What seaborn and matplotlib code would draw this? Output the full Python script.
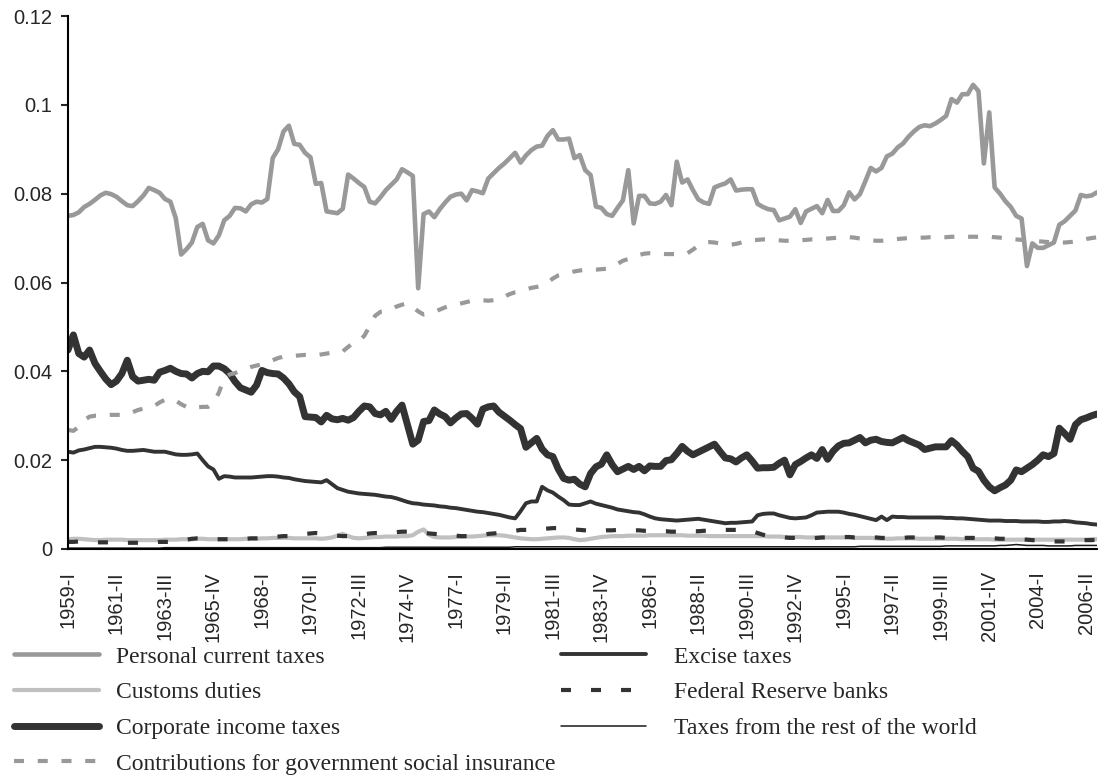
import numpy as np
import pandas as pd
import matplotlib
matplotlib.use("Agg")
import matplotlib.pyplot as plt
from matplotlib.ticker import FuncFormatter
import seaborn as sns

# quarterly values, in thousandths (0.001)
personal = [
    75.0, 75.2, 75.8, 77.0, 77.7, 78.6, 79.6, 80.2, 79.9, 79.3,
    78.3, 77.4, 77.2, 78.3, 79.6, 81.3, 80.8, 80.2, 78.8, 78.2,
    74.5, 66.3, 67.5, 69.0, 72.5, 73.2, 69.5, 68.8, 70.6, 74.0,
    75.0, 76.8, 76.7, 76.0, 77.6, 78.2, 78.0, 78.8, 88.0, 90.0,
    94.0, 95.3, 91.2, 91.0, 89.2, 88.2, 82.2, 82.4, 76.0, 75.8,
    75.6, 76.6, 84.3, 83.4, 82.4, 81.5, 78.2, 77.8, 79.2, 80.8,
    82.0, 83.2, 85.5, 84.8, 84.0, 58.7, 75.4, 76.0, 74.7, 76.5,
    78.0, 79.3, 79.8, 80.0, 78.5, 80.8, 80.5, 80.1, 83.4, 84.6,
    85.8, 86.8, 88.0, 89.2, 87.0, 88.6, 89.8, 90.6, 90.8, 93.0,
    94.3, 92.2, 92.2, 92.4, 88.0, 88.7, 85.3, 84.2, 77.1, 76.8,
    75.4, 75.0, 76.8, 78.5, 85.3, 73.3, 79.5, 79.5, 77.8, 77.7,
    78.2, 79.7, 77.4, 87.2, 82.5, 83.2, 80.8, 78.7, 78.0, 77.7,
    81.4, 81.9, 82.3, 83.2, 80.7, 80.9, 81.0, 81.0, 77.7, 77.0,
    76.5, 76.3, 74.0, 74.4, 74.8, 76.5, 73.4, 76.0, 76.6, 77.2,
    75.6, 78.6, 76.1, 76.1, 77.4, 80.3, 78.7, 79.9, 82.8, 85.8,
    85.0, 85.8, 88.4, 89.0, 90.4, 91.3, 92.8, 94.0, 95.0, 95.4,
    95.2, 95.8, 96.6, 97.5, 101.3, 100.5, 102.4, 102.4, 104.5, 103.1,
    86.8, 98.3, 81.4, 80.0, 78.3, 77.0, 75.0, 74.4, 63.7, 68.8,
    67.8, 67.8, 68.4, 69.0, 73.0, 73.8, 75.0, 76.2, 79.7, 79.4, 79.6, 80.3,
]
customs = [
    2.2, 2.3, 2.3, 2.2, 2.1, 2.0, 2.0, 2.1, 2.1, 2.1,
    2.1, 2.0, 2.0, 2.0, 2.0, 2.0, 2.0, 2.0, 2.1, 2.1,
    2.1, 2.2, 2.2, 2.2, 2.3, 2.3, 2.2, 2.2, 2.2, 2.2,
    2.2, 2.2, 2.2, 2.3, 2.3, 2.3, 2.4, 2.4, 2.5, 2.5,
    2.5, 2.5, 2.4, 2.4, 2.4, 2.4, 2.4, 2.3, 2.4, 2.6,
    3.0, 3.4, 2.9, 2.5, 2.4, 2.5, 2.6, 2.7, 2.7, 2.8,
    2.8, 2.8, 2.9, 2.9, 3.1, 3.9, 4.4, 3.2, 2.7, 2.6,
    2.6, 2.6, 2.7, 2.7, 2.8, 2.8, 2.9, 3.0, 3.1, 3.1,
    3.1, 3.0, 2.8, 2.6, 2.4, 2.3, 2.2, 2.2, 2.3, 2.4,
    2.5, 2.6, 2.6, 2.5, 2.2, 2.0, 2.1, 2.3, 2.5, 2.7,
    2.8, 2.9, 2.9, 2.9, 3.0, 3.0, 3.0, 3.0, 3.1, 3.1,
    3.1, 3.1, 3.1, 3.1, 3.1, 3.0, 3.0, 3.0, 3.0, 2.9,
    2.9, 2.9, 2.9, 2.9, 2.9, 2.9, 2.9, 2.9, 2.9, 2.9,
    2.8, 2.8, 2.8, 2.7, 2.7, 2.7, 2.7, 2.6, 2.6, 2.6,
    2.6, 2.6, 2.6, 2.6, 2.6, 2.6, 2.5, 2.5, 2.5, 2.5,
    2.4, 2.3, 2.3, 2.3, 2.4, 2.4, 2.4, 2.4, 2.3, 2.3,
    2.3, 2.3, 2.3, 2.3, 2.3, 2.3, 2.2, 2.2, 2.2, 2.2,
    2.2, 2.2, 2.1, 2.1, 2.1, 2.1, 2.1, 2.1, 2.1, 2.1,
    2.1, 2.1, 2.1, 2.1, 2.1, 2.1, 2.1, 2.1, 2.1, 2.1, 2.2, 2.2,
]
corporate = [
    44.8, 48.2, 44.0, 43.2, 44.8, 41.8, 40.0, 38.3, 37.0, 37.8,
    39.5, 42.5, 38.8, 37.8, 38.0, 38.2, 38.0, 39.8, 40.2, 40.7,
    40.0, 39.5, 39.4, 38.5, 39.5, 40.0, 39.9, 41.2, 41.2, 40.6,
    39.5, 37.7, 36.3, 35.8, 35.3, 36.9, 40.2, 39.7, 39.5, 39.4,
    38.5, 37.2, 35.4, 34.3, 29.8, 29.7, 29.6, 28.6, 30.1, 29.3,
    29.1, 29.4, 29.0, 29.6, 31.0, 32.2, 32.0, 30.5, 30.2, 31.0,
    29.2, 31.0, 32.4, 28.0, 23.6, 24.5, 28.7, 28.9, 31.3, 30.4,
    29.8, 28.4, 29.5, 30.4, 30.5, 29.4, 28.1, 31.5, 32.0, 32.2,
    30.8, 29.9, 29.0, 28.0, 27.1, 22.9, 23.9, 24.9, 22.5, 21.2,
    20.8, 18.0, 15.9, 15.5, 15.7, 14.6, 14.0, 17.0, 18.5, 19.1,
    21.2, 19.0, 17.4, 18.0, 18.6, 17.9, 18.6, 17.6, 18.7, 18.6,
    18.6, 19.9, 20.1, 21.5, 23.1, 22.0, 21.2, 21.8, 22.4, 23.0,
    23.6, 22.0, 20.5, 20.3, 19.6, 20.5, 21.2, 19.8, 18.2, 18.3,
    18.3, 18.4, 19.3, 20.0, 16.7, 19.0, 19.7, 20.5, 21.2, 20.4,
    22.4, 20.2, 22.0, 23.2, 23.8, 23.9, 24.5, 25.1, 23.9, 24.5,
    24.7, 24.2, 24.0, 23.9, 24.5, 25.1, 24.4, 23.9, 23.4, 22.4,
    22.7, 23.0, 23.0, 23.0, 24.4, 23.4, 22.0, 20.8, 18.2, 17.5,
    15.5, 14.0, 13.1, 13.8, 14.4, 15.5, 17.8, 17.4, 18.2, 19.0,
    20.0, 21.2, 20.8, 21.5, 27.2, 26.0, 24.7, 28.0, 29.1, 29.5, 30.0, 30.4,
]
contributions = [
    26.8, 26.6, 27.5, 29.0, 29.8, 30.0, 30.0, 30.1, 30.2, 30.2,
    30.2, 30.3, 30.8, 31.3, 31.6, 31.8, 32.2, 33.0, 33.6, 33.8,
    33.4, 32.6, 32.0, 31.6, 31.9, 32.0, 32.0, 32.8, 35.2, 38.5,
    39.3, 39.6, 40.2, 40.6, 41.0, 41.3, 41.6, 42.0, 42.5, 43.0,
    43.3, 43.4, 43.5, 43.6, 43.7, 43.7, 43.6, 43.8, 44.0, 44.2,
    44.2, 44.5, 45.5, 46.4, 46.8, 48.0, 50.2, 52.5, 53.4, 53.5,
    54.0, 54.6, 55.0, 55.3, 54.5, 53.5, 52.8, 53.0, 53.4, 53.9,
    54.4, 54.8, 55.0, 55.3, 55.6, 55.9, 56.0, 56.0, 55.9, 56.0,
    56.1, 56.8, 57.4, 57.8, 58.0, 58.4, 58.8, 59.0, 59.3, 60.0,
    60.9, 61.6, 61.9, 62.2, 62.5, 62.7, 62.9, 62.9, 62.9, 63.0,
    63.1, 63.6, 64.2, 64.9, 65.3, 65.8, 66.2, 66.5, 66.6, 66.6,
    66.5, 66.4, 66.4, 66.4, 66.4, 66.6, 67.4, 68.3, 69.0, 69.1,
    69.0, 68.8, 68.6, 68.5, 68.7, 69.0, 69.3, 69.5, 69.6, 69.7,
    69.7, 69.6, 69.5, 69.4, 69.4, 69.4, 69.5, 69.6, 69.7, 69.7,
    69.8, 69.9, 70.0, 70.1, 70.2, 70.2, 70.1, 69.9, 69.7, 69.5,
    69.4, 69.4, 69.5, 69.7, 69.8, 69.9, 70.0, 70.0, 70.1, 70.1,
    70.2, 70.2, 70.2, 70.2, 70.3, 70.3, 70.3, 70.3, 70.3, 70.3,
    70.3, 70.3, 70.2, 70.1, 69.9, 69.8, 69.7, 69.6, 69.5, 69.4,
    69.3, 69.2, 69.1, 69.1, 69.0, 69.0, 69.1, 69.2, 69.5, 69.8, 70.0, 70.2,
]
excise = [
    21.9, 21.7, 22.2, 22.4, 22.7, 23.0, 23.0, 22.9, 22.8, 22.6,
    22.3, 22.1, 22.1, 22.2, 22.3, 22.1, 21.9, 21.9, 21.9, 21.6,
    21.3, 21.2, 21.2, 21.3, 21.5, 20.0, 18.6, 17.9, 15.8, 16.4,
    16.3, 16.1, 16.1, 16.1, 16.1, 16.2, 16.3, 16.4, 16.4, 16.3,
    16.1, 16.0, 15.7, 15.5, 15.3, 15.2, 15.1, 15.0, 15.5, 14.6,
    13.7, 13.3, 12.9, 12.7, 12.5, 12.4, 12.3, 12.2, 12.0, 11.8,
    11.7, 11.4, 11.0, 10.6, 10.3, 10.2, 10.0, 9.9, 9.8, 9.6,
    9.5, 9.3, 9.2, 9.0, 8.8, 8.6, 8.4, 8.3, 8.1, 7.9,
    7.7, 7.4, 7.1, 6.9, 8.5, 10.3, 10.7, 10.7, 14.0, 13.2,
    12.7, 11.8, 11.0, 10.0, 9.9, 9.9, 10.3, 10.7, 10.2, 9.9,
    9.6, 9.3, 8.9, 8.7, 8.5, 8.3, 8.2, 7.8, 7.3, 6.9,
    6.7, 6.6, 6.5, 6.4, 6.5, 6.6, 6.7, 6.8, 6.6, 6.4,
    6.2, 6.0, 5.8, 5.9, 5.9, 6.0, 6.1, 6.2, 7.6, 7.9,
    8.0, 8.0, 7.6, 7.3, 7.0, 6.9, 7.0, 7.1, 7.6, 8.2,
    8.3, 8.4, 8.4, 8.4, 8.2, 7.9, 7.7, 7.4, 7.1, 6.8,
    6.5, 7.3, 6.5, 7.3, 7.2, 7.2, 7.1, 7.1, 7.1, 7.1,
    7.1, 7.1, 7.1, 7.0, 7.0, 6.9, 6.9, 6.8, 6.7, 6.6,
    6.5, 6.4, 6.4, 6.4, 6.3, 6.3, 6.3, 6.2, 6.2, 6.2,
    6.2, 6.1, 6.1, 6.2, 6.2, 6.3, 6.2, 6.0, 5.9, 5.8, 5.6, 5.5,
]
fed_reserve = [
    1.6, 1.6, 1.7, 1.6, 1.6, 1.5, 1.5, 1.5, 1.5, 1.5,
    1.4, 1.4, 1.4, 1.4, 1.4, 1.5, 1.5, 1.6, 1.6, 1.6,
    1.8, 1.9, 2.1, 2.3, 2.4, 2.4, 2.3, 2.2, 2.2, 2.2,
    2.2, 2.2, 2.3, 2.3, 2.4, 2.4, 2.5, 2.6, 2.7, 2.8,
    2.9, 2.9, 3.0, 3.2, 3.4, 3.5, 3.6, 3.5, 3.3, 3.1,
    3.0, 2.9, 2.9, 3.0, 3.1, 3.3, 3.5, 3.6, 3.6, 3.7,
    3.7, 3.8, 3.9, 3.9, 3.8, 3.7, 3.6, 3.5, 3.4, 3.3,
    3.2, 3.1, 3.0, 2.9, 2.9, 2.9, 3.0, 3.2, 3.4, 3.5,
    3.6, 3.7, 3.9, 4.1, 4.3, 4.3, 4.3, 4.4, 4.5, 4.6,
    4.7, 4.7, 4.7, 4.6, 4.4, 4.3, 4.2, 4.1, 4.1, 4.1,
    4.2, 4.2, 4.3, 4.3, 4.3, 4.2, 4.2, 4.1, 4.1, 4.1,
    4.0, 4.0, 3.9, 3.9, 3.9, 3.9, 4.0, 4.0, 4.1, 4.1,
    4.1, 4.2, 4.3, 4.3, 4.3, 4.3, 4.3, 4.0, 3.6, 3.2,
    3.0, 2.8, 2.7, 2.6, 2.5, 2.5, 2.4, 2.4, 2.4, 2.5,
    2.6, 2.6, 2.7, 2.7, 2.7, 2.7, 2.6, 2.6, 2.6, 2.6,
    2.6, 2.5, 2.5, 2.5, 2.5, 2.5, 2.6, 2.6, 2.6, 2.6,
    2.6, 2.6, 2.6, 2.5, 2.5, 2.5, 2.5, 2.5, 2.5, 2.4,
    2.4, 2.4, 2.4, 2.3, 2.3, 2.3, 2.2, 2.2, 2.1, 2.0,
    1.9, 1.8, 1.7, 1.7, 1.7, 1.7, 1.8, 1.9, 1.9, 2.0, 2.0, 2.1,
]
rest_of_world = [
    0.2, 0.2, 0.2, 0.2, 0.2, 0.2, 0.2, 0.2, 0.2, 0.2,
    0.2, 0.2, 0.2, 0.2, 0.2, 0.2, 0.2, 0.2, 0.3, 0.3,
    0.3, 0.3, 0.3, 0.3, 0.3, 0.3, 0.3, 0.3, 0.3, 0.3,
    0.3, 0.3, 0.3, 0.3, 0.3, 0.3, 0.3, 0.3, 0.3, 0.3,
    0.3, 0.3, 0.3, 0.3, 0.3, 0.3, 0.3, 0.3, 0.3, 0.3,
    0.3, 0.3, 0.3, 0.3, 0.3, 0.3, 0.3, 0.3, 0.3, 0.4,
    0.4, 0.4, 0.4, 0.4, 0.4, 0.4, 0.4, 0.4, 0.4, 0.4,
    0.4, 0.4, 0.4, 0.4, 0.4, 0.4, 0.4, 0.4, 0.4, 0.4,
    0.4, 0.4, 0.4, 0.5, 0.5, 0.5, 0.5, 0.5, 0.5, 0.5,
    0.5, 0.5, 0.5, 0.5, 0.5, 0.5, 0.5, 0.5, 0.5, 0.5,
    0.5, 0.5, 0.5, 0.5, 0.5, 0.5, 0.5, 0.5, 0.5, 0.5,
    0.5, 0.5, 0.5, 0.5, 0.5, 0.5, 0.5, 0.5, 0.5, 0.5,
    0.5, 0.5, 0.5, 0.5, 0.5, 0.5, 0.5, 0.5, 0.5, 0.5,
    0.5, 0.5, 0.5, 0.5, 0.5, 0.5, 0.5, 0.5, 0.5, 0.5,
    0.5, 0.5, 0.5, 0.5, 0.5, 0.5, 0.5, 0.6, 0.6, 0.6,
    0.6, 0.6, 0.6, 0.6, 0.6, 0.6, 0.6, 0.6, 0.6, 0.6,
    0.6, 0.6, 0.6, 0.7, 0.7, 0.7, 0.7, 0.7, 0.7, 0.7,
    0.7, 0.7, 0.7, 0.8, 0.8, 0.9, 1.0, 0.9, 0.8, 0.8,
    0.8, 0.8, 0.7, 0.7, 0.7, 0.7, 0.7, 0.8, 0.8, 0.8, 0.8, 0.8,
]

quarters = [f"{y}-{q}" for y in range(1959, 2007) for q in ["I", "II", "III", "IV"]]
tick_labels = ["1959-I", "1961-II", "1963-III", "1965-IV", "1968-I", "1970-II",
               "1972-III", "1974-IV", "1977-I", "1979-II", "1981-III", "1983-IV",
               "1986-I", "1988-II", "1990-III", "1992-IV", "1995-I", "1997-II",
               "1999-III", "2001-IV", "2004-I", "2006-II"]
yticks = [0, 0.02, 0.04, 0.06, 0.08, 0.1, 0.12]

sns.set_style("white")
plt.rcParams["font.family"] = ["Liberation Sans", "DejaVu Sans"]

fig = plt.figure(figsize=(11.01, 7.84), dpi=100)
ax = fig.add_axes([68 / 1101, 1 - 549 / 784, 1029 / 1101, 533 / 784])

x = np.arange(len(quarters))
series = [
    ("Personal current taxes", personal, "#999999", 3.3, "-"),
    ("Customs duties", customs, "#c0c0c0", 3.0, "-"),
    ("Corporate income taxes", corporate, "#333333", 5.0, "-"),
    ("Contributions for government social insurance", contributions, "#999999", 3.0, (0, (2.4, 3.3))),
    ("Excise taxes", excise, "#333333", 2.8, "-"),
    ("Federal Reserve banks", fed_reserve, "#333333", 3.0, (0, (2.4, 4.8))),
    ("Taxes from the rest of the world", rest_of_world, "#1a1a1a", 1.1, "-"),
]
for name, vals, color, lw, ls in series:
    sns.lineplot(x=x, y=np.array(vals) / 1000, ax=ax, color=color, lw=lw,
                 linestyle=ls, label=name, errorbar=None)

ax.set_xlim(0, len(quarters) - 1)
ax.set_ylim(0, 0.12)
ax.set_yticks(yticks)
ax.yaxis.set_major_formatter(FuncFormatter(lambda v, _: f"{v:g}"))
ax.set_xticks(x[::9])
ax.set_xticklabels(tick_labels, rotation=90)
ax.tick_params(axis="x", length=0, pad=16, labelsize=14.5)
ax.tick_params(axis="y", left=True, length=5, width=1.5, pad=6.5, labelsize=14.5)
ax.set_xlabel("")
ax.set_ylabel("")
for s in ["top", "right"]:
    ax.spines[s].set_visible(False)
for s in ["left", "bottom"]:
    ax.spines[s].set_color("black")
    ax.spines[s].set_linewidth(1.5)

h, l = ax.get_legend_handles_labels()
ax.get_legend().remove()
leg_font = {"family": ["Liberation Serif", "DejaVu Serif"], "size": 17}
common = dict(loc="upper left", frameon=False, prop=leg_font, handlelength=3.6,
              labelspacing=0.6, borderaxespad=0, borderpad=0)
fig.legend(h[:4], l[:4], bbox_to_anchor=(14 / 1101, 1 - 646 / 784),
           handletextpad=0.7, **common)
fig.legend(h[4:], l[4:], bbox_to_anchor=(561 / 1101, 1 - 646 / 784),
           handletextpad=1.2, **common)

fig.savefig("out.png", dpi=100)
